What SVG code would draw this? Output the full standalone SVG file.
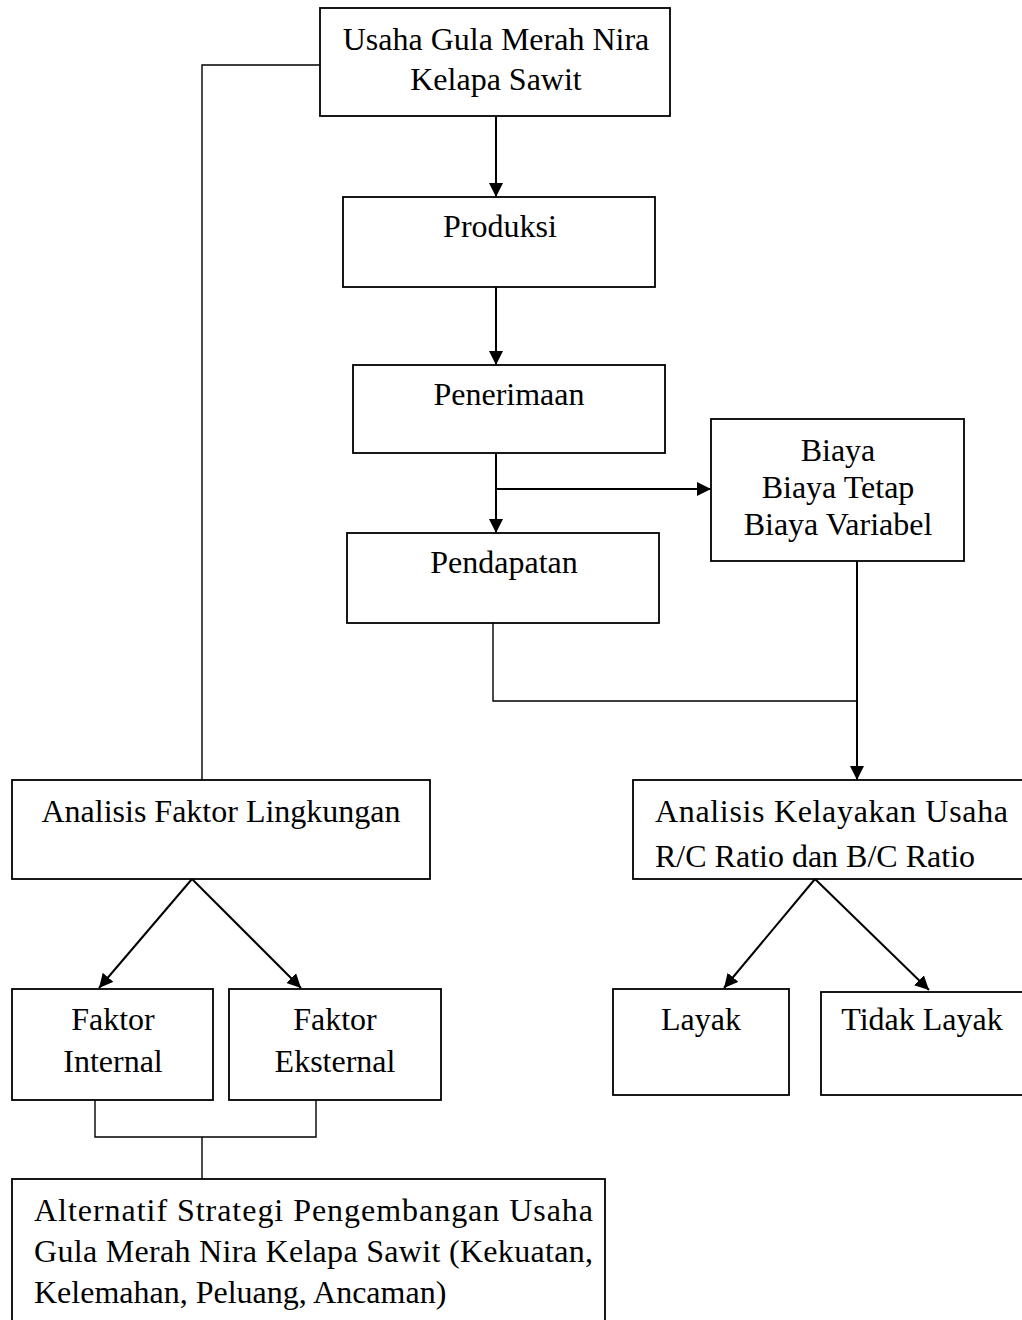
<svg xmlns="http://www.w3.org/2000/svg" width="1022" height="1320" viewBox="0 0 1022 1320">
<style>
.box{fill:#fff;stroke:#000;stroke-width:1.8}
.t{font-family:"Liberation Serif","Times New Roman",serif;font-size:32px;fill:#000}
.c{text-anchor:middle}
.ln{fill:none;stroke:#000;stroke-width:2}
.thin{fill:none;stroke:#000;stroke-width:1.4}
</style>
<defs>
<marker id="ah" markerUnits="userSpaceOnUse" markerWidth="14" markerHeight="14" viewBox="0 0 14 14" refX="14" refY="7" orient="auto">
<path d="M0,0 L14,7 L0,14 Z" fill="#000"/>
</marker>
</defs>
<g id="connectors">
<polyline class="thin" points="320,65 202,65 202,780"/>
<line class="ln" x1="496" y1="116" x2="496" y2="197" marker-end="url(#ah)"/>
<line class="ln" x1="496" y1="287" x2="496" y2="365" marker-end="url(#ah)"/>
<line class="ln" x1="496" y1="453" x2="496" y2="533" marker-end="url(#ah)"/>
<line class="ln" x1="496" y1="489" x2="711" y2="489" marker-end="url(#ah)"/>
<polyline class="thin" points="493,623 493,701 857,701"/>
<line class="ln" x1="857" y1="561" x2="857" y2="780" marker-end="url(#ah)"/>
<line class="ln" x1="192" y1="879" x2="99" y2="988" marker-end="url(#ah)"/>
<line class="ln" x1="192" y1="879" x2="301" y2="988" marker-end="url(#ah)"/>
<line class="ln" x1="815" y1="879" x2="724" y2="988" marker-end="url(#ah)"/>
<line class="ln" x1="815" y1="879" x2="929" y2="990" marker-end="url(#ah)"/>
<polyline class="thin" points="95,1100 95,1137 316,1137 316,1100"/>
<line class="thin" x1="202" y1="1137" x2="202" y2="1179"/>
</g>
<g id="usaha">
<rect class="box" x="320" y="8" width="350" height="108"/>
<text class="t c" x="496" y="50">Usaha Gula Merah Nira</text>
<text class="t c" x="496" y="90">Kelapa Sawit</text>
</g>
<g id="produksi">
<rect class="box" x="343" y="197" width="312" height="90"/>
<text class="t c" x="500" y="237">Produksi</text>
</g>
<g id="penerimaan">
<rect class="box" x="353" y="365" width="312" height="88"/>
<text class="t c" x="509" y="405">Penerimaan</text>
</g>
<g id="biaya">
<rect class="box" x="711" y="419" width="253" height="142"/>
<text class="t c" x="838" y="461">Biaya</text>
<text class="t c" x="838" y="498">Biaya Tetap</text>
<text class="t c" x="838" y="535">Biaya Variabel</text>
</g>
<g id="pendapatan">
<rect class="box" x="347" y="533" width="312" height="90"/>
<text class="t c" x="504" y="573">Pendapatan</text>
</g>
<g id="lingkungan">
<rect class="box" x="12" y="780" width="418" height="99"/>
<text class="t c" x="221" y="822">Analisis Faktor Lingkungan</text>
</g>
<g id="kelayakan">
<rect class="box" x="633" y="780" width="395" height="99"/>
<text class="t" x="655" y="822" textLength="353" lengthAdjust="spacing">Analisis Kelayakan Usaha</text>
<text class="t" x="655" y="867">R/C Ratio dan B/C Ratio</text>
</g>
<g id="internal">
<rect class="box" x="12" y="989" width="201" height="111"/>
<text class="t c" x="113" y="1030">Faktor</text>
<text class="t c" x="113" y="1072">Internal</text>
</g>
<g id="eksternal">
<rect class="box" x="229" y="989" width="212" height="111"/>
<text class="t c" x="335" y="1030">Faktor</text>
<text class="t c" x="335" y="1072">Eksternal</text>
</g>
<g id="layak">
<rect class="box" x="613" y="989" width="176" height="106"/>
<text class="t c" x="701" y="1030">Layak</text>
</g>
<g id="tidaklayak">
<rect class="box" x="821" y="992" width="207" height="103"/>
<text class="t c" x="922" y="1030">Tidak Layak</text>
</g>
<g id="alternatif">
<rect class="box" x="12" y="1179" width="593" height="150"/>
<text class="t" x="34" y="1221" textLength="559" lengthAdjust="spacing">Alternatif Strategi Pengembangan Usaha</text>
<text class="t" x="34" y="1262" textLength="559" lengthAdjust="spacing">Gula Merah Nira Kelapa Sawit (Kekuatan,</text>
<text class="t" x="34" y="1303">Kelemahan, Peluang, Ancaman)</text>
</g>
</svg>
